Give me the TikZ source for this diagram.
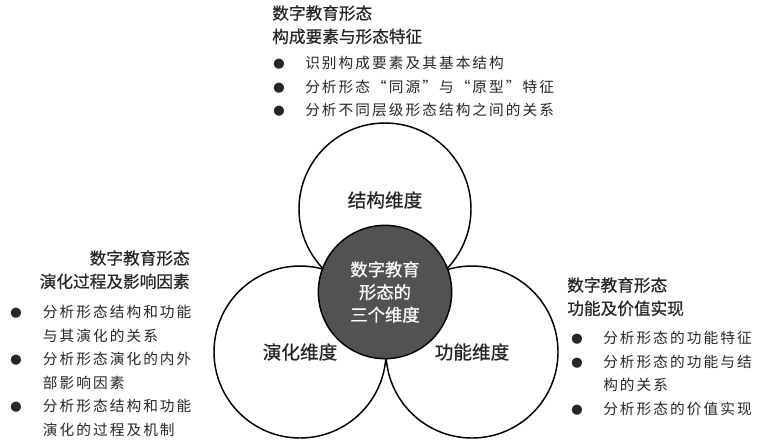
\documentclass[tikz,border=0pt]{standalone}
\usepackage{fontspec}
\setmainfont{Noto Sans CJK SC}
\newfontfamily\itemfont[LetterSpace=14]{Noto Sans CJK SC}
\newfontfamily\headfont[FakeBold=0.6]{Noto Sans CJK SC}
\newcommand{\dotmark}{{\fontsize{8.5}{8.5}\selectfont ●}}
\usetikzlibrary{positioning}
\definecolor{hubgray}{HTML}{525252}
\definecolor{inkgray}{HTML}{262626}

\begin{document}
\begin{tikzpicture}[x=0.75pt, y=-0.75pt,
        ring/.style={circle, draw, line width=1.1pt, fill=white, minimum size=129pt, inner sep=0pt},
        hub/.style={circle, draw, line width=1.1pt, fill=hubgray, minimum size=100pt, inner sep=0pt, text=white, align=center, font=\headfont\fontsize{13}{17}\selectfont},
        dim/.style={inner sep=0pt, font=\headfont\fontsize{14}{17}\selectfont, text=inkgray},
        head/.style={inner sep=0pt, font=\headfont\fontsize{12.5}{17.5}\selectfont, text=inkgray},
        list/.style={inner sep=0pt, anchor=north west, font=\itemfont\fontsize{11}{17.6}\selectfont, text=inkgray}]
        \useasboundingbox (0,0) rectangle (759,444);
        % three circles and the hub
        \node[ring] (jiegou) at (385,209) {};
        \node[ring] (yanhua) at (300,352) {};
        \node[ring] (gongneng) at (472,352) {};
        \node[hub] (hub) at (385,292) {数字教育\\形态的\\三个维度};
        \node[dim] (jiegoulab) at (385,200) {结构维度};
        \node[dim] (yanhualab) at (300,352) {演化维度};
        \node[dim] (gongnenglab) at (472,352) {功能维度};
        % top block
        \node[head, anchor=north west, align=left] (tophead) at (272,5) {数字教育形态\\构成要素与形态特征};
        \node[list] (toplist) at (273,52) {\begin{tabular}{@{}p{24pt}@{}l@{}}
            \dotmark & 识别构成要素及其基本结构\\
            \dotmark & 分析形态“同源”与“原型”特征\\
            \dotmark & 分析不同层级形态结构之间的关系
            \end{tabular}};
        % left block
        \node[head, anchor=north east, align=right] (lefthead) at (190,250) {数字教育形态\\演化过程及影响因素};
        \node[list] (leftlist) at (10,301) {\begin{tabular}{@{}p{24.5pt}@{}l@{}}
            \dotmark & 分析形态结构和功能\\
                     & 与其演化的关系\\
            \dotmark & 分析形态演化的内外\\
                     & 部影响因素\\
            \dotmark & 分析形态结构和功能\\
                     & 演化的过程及机制
            \end{tabular}};
        % right block
        \node[head, anchor=north west, align=left] (righthead) at (567,277) {数字教育形态\\功能及价值实现};
        \node[list] (rightlist) at (571,327) {\begin{tabular}{@{}p{24pt}@{}l@{}}
            \dotmark & 分析形态的功能特征\\
            \dotmark & 分析形态的功能与结\\
                     & 构的关系\\
            \dotmark & 分析形态的价值实现
            \end{tabular}};
\end{tikzpicture}
\end{document}
